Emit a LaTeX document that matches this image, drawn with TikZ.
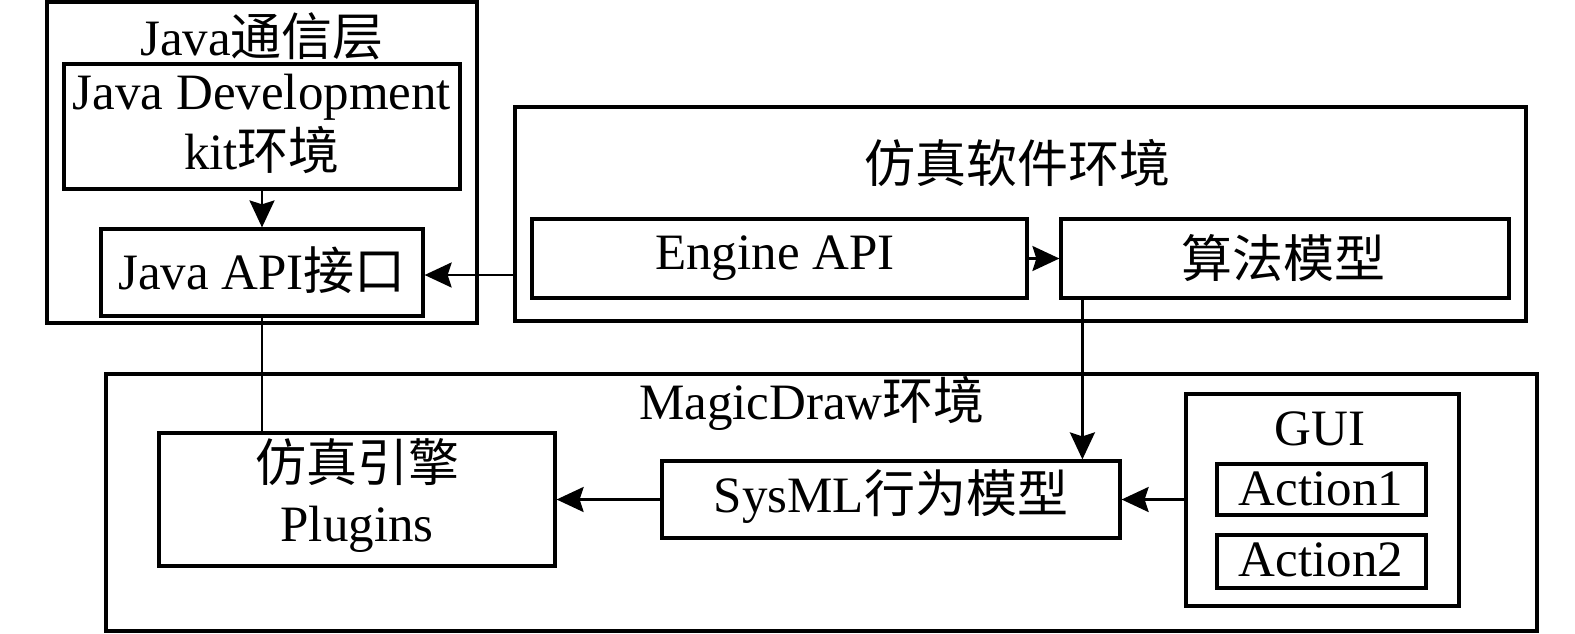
\documentclass[tikz,border=0pt]{standalone}
\usepackage{fontspec}
\setmainfont{Liberation Serif}
\newfontfamily\cjk{Noto Sans CJK SC}
\usetikzlibrary{positioning,arrows.meta,calc}
\tikzset{
  blk/.style={draw,line width=3.2pt,inner sep=0pt},
  txt/.style={inner sep=0pt,font=\fontsize{51}{60}\selectfont,align=center},
  arr/.style={-{Stealth[length=27pt,width=25pt,inset=4pt]},line width=2.6pt},
  ln/.style={line width=2.2pt},
}
\begin{document}
\begin{tikzpicture}[x=1pt,y=-1pt]
  \useasboundingbox (0,0) rectangle (1575,633);
  % Java layer
  \node[blk,minimum width=430pt,minimum height=321pt] (java) at (262,162.5) {};
  \node[txt] (javat) at (262,36) {Java{\cjk 通信层}};
  \node[blk,minimum width=396pt,minimum height=125pt] (jdk) at (262,126.5) {};
  \node[txt] (jdkt) at (262,124) {Java Development\\kit{\cjk 环境}};
  \node[blk,minimum width=322pt,minimum height=87pt] (japi) at (262,272.5) {};
  \node[txt] (japit) at (262,270) {Java API{\cjk 接口}};
  % simulation software
  \node[blk,minimum width=1011pt,minimum height=214pt] (sim) at (1020.5,214) {};
  \node[txt] (simt) at (1017,163) {\cjk 仿真软件环境};
  \node[blk,minimum width=495pt,minimum height=79pt] (engapi) at (779.5,258.5) {};
  \node[txt] (engapit) at (775,258) {Engine API};
  \node[blk,minimum width=448pt,minimum height=79pt] (algo) at (1285,258.5) {};
  \node[txt] (algot) at (1283,258) {\cjk 算法模型};
  % MagicDraw
  \node[blk,minimum width=1431pt,minimum height=257pt] (magic) at (821.5,502.5) {};
  \node[txt] (magict) at (812,403) {MagicDraw{\cjk 环境}};
  \node[blk,minimum width=396pt,minimum height=133pt] (plug) at (357,499.5) {};
  \node[txt] (plugt) at (357,495) {{\cjk 仿真引擎}\\Plugins};
  \node[blk,minimum width=458pt,minimum height=77pt] (sysml) at (891,499.5) {};
  \node[txt] (sysmlt) at (891,497) {SysML{\cjk 行为模型}};
  \node[blk,minimum width=273pt,minimum height=212pt] (gui) at (1322.5,500) {};
  \node[txt] (guit) at (1320,429) {GUI};
  \node[blk,minimum width=209pt,minimum height=51pt] (act1) at (1321.5,489.5) {};
  \node[txt] (act1t) at (1321,489) {Action1};
  \node[blk,minimum width=209pt,minimum height=53pt] (act2) at (1321.5,561.5) {};
  \node[txt] (act2t) at (1321,560) {Action2};
  % connectors
  \draw[arr] (jdk.south) -- (japi.north);
  \draw[arr] (sim.west |- 0,275) -- (japi.east |- 0,275);
  \draw[arr] (engapi.east) -- (algo.west);
  \draw[arr] ([xshift=23pt]algo.south west) -- ([xshift=23pt]algo.south west |- sysml.north);
  \draw[ln] (japi.south) -- (japi.south |- plug.north);
  \draw[arr] (sysml.west) -- (plug.east);
  \draw[arr] (gui.west |- sysml.east) -- (sysml.east);
\end{tikzpicture}
\end{document}
